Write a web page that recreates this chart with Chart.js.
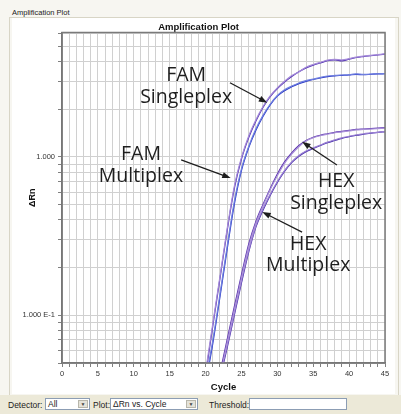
<!DOCTYPE html>
<html>
<head>
<meta charset="utf-8">
<script src="https://cdn.jsdelivr.net/npm/chart.js@4.4.0/dist/chart.umd.min.js"></script>
<style>
  html, body { margin: 0; padding: 0; }
  body {
    width: 401px; height: 414px; position: relative; overflow: hidden;
    background: #f7f6f1; font-family: "Liberation Sans", Arial, sans-serif;
  }
  #group {
    position: absolute; left: 9px; top: 17px; width: 388px; height: 378px;
    border-left: 1px solid #d8d5c6; border-top: 1px solid #d8d5c6; border-right: 1px solid #d8d5c6;
  }
  #groupLabel {
    position: absolute; left: 12px; top: 8px; font-size: 7.5px; color: #222;
    background: #f7f6f1; padding-right: 4px;
  }
  #panel { position: absolute; left: 12px; top: 18px; width: 383px; height: 376px; background: #fff; }
  #bar {
    position: absolute; left: 0; top: 395px; width: 401px; height: 19px;
    background: #ece9d8; font-size: 8.5px; color: #222;
  }
  #bar .lbl { position: absolute; top: 5px; }
  #bar .box {
    position: absolute; top: 3px; height: 12px; background: #fff;
    border: 1px solid #8c9db4; box-sizing: border-box; font-size: 8.5px;
    line-height: 10px; padding-left: 2px;
  }
  #bar .btn {
    position: absolute; top: 1px; right: 1px; width: 10px; height: 8px;
    background: #e4e2d8; border: 1px solid #b8b6aa; box-sizing: border-box;
    font-size: 5px; line-height: 6px; text-align: center; color: #444;
  }
</style>
</head>
<body>
<div id="group"></div>
<div id="groupLabel">Amplification Plot</div>
<div id="panel"><canvas id="ampChart" width="383" height="376"></canvas></div>
<div id="bar">
  <span class="lbl" style="left:8px">Detector:</span>
  <div class="box" style="left:45px; width:45px">All<div class="btn">▼</div></div>
  <span class="lbl" style="left:93px">Plot:</span>
  <div class="box" style="left:110px; width:88px">ΔRn vs. Cycle<div class="btn">▼</div></div>
  <span class="lbl" style="left:209px">Threshold:</span>
  <div class="box" style="left:249px; width:98px"></div>
</div>
<script>
// cycles shared by every trace
const cycles = [20, 21, 22, 23, 24, 25, 26, 27, 28, 29, 30, 31, 32, 33, 34, 35, 36, 37, 38, 39, 40, 41, 42, 43, 44, 45];

// FAM, upper plateau (two replicates)
const famUpperA = [0.042, 0.085, 0.17, 0.34, 0.63, 0.97, 1.32, 1.68, 2.05, 2.4, 2.7, 2.97, 3.22, 3.45, 3.65, 3.8, 3.92, 4.05, 4.1, 4.04, 4.14, 4.24, 4.3, 4.35, 4.4, 4.45];
const famUpperB = [0.044, 0.088, 0.175, 0.35, 0.65, 0.99, 1.35, 1.71, 2.08, 2.43, 2.73, 3.0, 3.26, 3.44, 3.68, 3.83, 3.95, 4.08, 4.13, 4.1, 4.17, 4.27, 4.33, 4.37, 4.42, 4.47];
// FAM, lower plateau
const famLowerA = [0.037, 0.066, 0.13, 0.26, 0.5, 0.82, 1.14, 1.47, 1.8, 2.13, 2.42, 2.62, 2.77, 2.9, 3.0, 3.08, 3.15, 3.21, 3.25, 3.27, 3.29, 3.32, 3.3, 3.32, 3.34, 3.35];
const famLowerB = [0.039, 0.069, 0.135, 0.27, 0.52, 0.84, 1.16, 1.5, 1.83, 2.15, 2.44, 2.65, 2.8, 2.93, 3.03, 3.1, 3.18, 3.24, 3.27, 3.29, 3.31, 3.34, 3.32, 3.33, 3.35, 3.36];
// HEX, upper plateau
const hexUpperA = [null, null, 0.043, 0.07, 0.113, 0.18, 0.28, 0.39, 0.5, 0.63, 0.78, 0.93, 1.06, 1.18, 1.27, 1.33, 1.37, 1.4, 1.43, 1.45, 1.47, 1.49, 1.5, 1.51, 1.52, 1.53];
const hexUpperB = [null, null, 0.041, 0.067, 0.108, 0.172, 0.27, 0.38, 0.49, 0.62, 0.76, 0.91, 1.04, 1.16, 1.26, 1.32, 1.36, 1.39, 1.42, 1.44, 1.46, 1.48, 1.49, 1.5, 1.51, 1.52];
// HEX, lower plateau
const hexLowerA = [null, null, 0.04, 0.062, 0.1, 0.16, 0.25, 0.36, 0.46, 0.57, 0.69, 0.81, 0.92, 1.01, 1.08, 1.13, 1.18, 1.23, 1.27, 1.31, 1.34, 1.37, 1.39, 1.41, 1.43, 1.44];
const hexLowerB = [null, null, 0.042, 0.064, 0.103, 0.165, 0.255, 0.365, 0.47, 0.58, 0.7, 0.82, 0.93, 1.02, 1.09, 1.14, 1.19, 1.24, 1.28, 1.32, 1.35, 1.38, 1.4, 1.42, 1.43, 1.45];

// axis ticks
const xTickLabels = [0, 5, 10, 15, 20, 25, 30, 35, 40, 45];
const yGridValues = [0.05, 0.06, 0.07, 0.08, 0.09, 0.1, 0.2, 0.3, 0.4, 0.5, 0.6, 0.7, 0.8, 0.9, 1, 2, 3, 4, 5, 6];
const yLabelValues = [0.1, 1];
const yLabelTexts = ['1.000 E-1', '1.000'];

// callouts, positions in (cycle, ΔRn)
const callouts = [
  { lines: ['FAM', 'Singleplex'], text: [17.3, 3.26], from: [23.4, 2.94], to: [28.6, 2.2] },
  { lines: ['FAM', 'Multiplex'], text: [11.0, 1.03], from: [16.6, 0.957], to: [23.5, 0.736] },
  { lines: ['HEX', 'Singleplex'], text: [38.2, 0.695], from: [38.3, 0.89], to: [33.45, 1.245] },
  { lines: ['HEX', 'Multiplex'], text: [34.3, 0.281], from: [33.45, 0.335], to: [27.9, 0.449] }
];

function trace(values, color) {
  return {
    data: cycles.map((c, i) => ({ x: c, y: values[i] })),
    borderColor: color,
    borderWidth: 1.2,
    pointRadius: 0,
    fill: false,
    cubicInterpolationMode: 'monotone'
  };
}

const calloutPlugin = {
  id: 'callouts',
  afterDatasetsDraw(chart) {
    const { ctx, chartArea, scales: { x, y } } = chart;
    ctx.save();
    // frame around the plot
    ctx.strokeStyle = '#7a7a7a';
    ctx.lineWidth = 1.5;
    ctx.strokeRect(chartArea.left, chartArea.top, chartArea.right - chartArea.left, chartArea.bottom - chartArea.top);

    ctx.fillStyle = '#1e1e1e';
    ctx.strokeStyle = '#1e1e1e';
    ctx.font = '19.5px "Open Sans"';
    ctx.textAlign = 'center';
    ctx.textBaseline = 'middle';
    callouts.forEach(c => {
      const tx = x.getPixelForValue(c.text[0]);
      const ty = y.getPixelForValue(c.text[1]);
      c.lines.forEach((line, i) => ctx.fillText(line, tx, ty + i * 21.5));

      const x1 = x.getPixelForValue(c.from[0]), y1 = y.getPixelForValue(c.from[1]);
      const x2 = x.getPixelForValue(c.to[0]), y2 = y.getPixelForValue(c.to[1]);
      const ang = Math.atan2(y2 - y1, x2 - x1);
      const head = 9;
      ctx.lineWidth = 1.3;
      ctx.beginPath();
      ctx.moveTo(x1, y1);
      ctx.lineTo(x2 - Math.cos(ang) * head * 0.8, y2 - Math.sin(ang) * head * 0.8);
      ctx.stroke();
      ctx.beginPath();
      ctx.moveTo(x2, y2);
      ctx.lineTo(x2 - head * Math.cos(ang - 0.35), y2 - head * Math.sin(ang - 0.35));
      ctx.lineTo(x2 - head * Math.cos(ang + 0.35), y2 - head * Math.sin(ang + 0.35));
      ctx.closePath();
      ctx.fill();
    });
    ctx.restore();
  }
};

new Chart(document.getElementById('ampChart'), {
  type: 'line',
  data: {
    datasets: [
      trace(famUpperB, '#a58bd9'),
      trace(famUpperA, '#4f2fb0'),
      trace(famLowerB, '#6f7fe0'),
      trace(famLowerA, '#2a38c4'),
      trace(hexUpperB, '#a88fd8'),
      trace(hexUpperA, '#5a32ad'),
      trace(hexLowerB, '#9a80d4'),
      trace(hexLowerA, '#452ca8')
    ]
  },
  options: {
    responsive: false,
    animation: false,
    devicePixelRatio: 1,
    layout: { padding: { left: 0, right: 10, top: 0, bottom: 0 } },
    plugins: {
      legend: { display: false },
      tooltip: { enabled: false },
      title: {
        display: true,
        text: 'Amplification Plot',
        color: '#111',
        font: { family: '"Liberation Sans", Arial', size: 9.5, weight: 'bold', lineHeight: 1 },
        padding: { top: 5, bottom: 0 }
      }
    },
    scales: {
      x: {
        type: 'linear',
        min: 0,
        max: 45,
        afterFit: s => { s.height = 31; },
        ticks: {
          stepSize: 1,
          autoSkip: false,
          maxRotation: 0,
          padding: 2,
          color: '#333',
          font: { family: '"Liberation Sans", Arial', size: 7.5 },
          callback: v => xTickLabels.includes(v) ? String(v) : ''
        },
        grid: { color: '#d0d0d0', tickColor: '#808080', tickLength: 4, lineWidth: 1 },
        border: { color: '#707070', width: 1.5 },
        title: {
          display: true,
          text: 'Cycle',
          color: '#111',
          font: { family: '"Liberation Sans", Arial', size: 9.5, weight: 'bold' },
          padding: { top: 0, bottom: 1 }
        }
      },
      y: {
        type: 'logarithmic',
        min: 0.05,
        max: 6.1,
        afterFit: s => { s.width = 50; },
        afterBuildTicks: s => { s.ticks = yGridValues.map(v => ({ value: v })); },
        ticks: {
          padding: 3,
          color: '#333',
          font: { family: '"Liberation Sans", Arial', size: 7.5 },
          callback: v => {
            const k = yLabelValues.indexOf(v);
            return k >= 0 ? yLabelTexts[k] : '';
          }
        },
        grid: { color: '#d0d0d0', tickColor: '#808080', tickLength: 4, lineWidth: 1 },
        border: { color: '#707070', width: 1.5 },
        title: {
          display: true,
          text: 'ΔRn',
          color: '#111',
          font: { family: '"Liberation Sans", Arial', size: 9, weight: 'bold' },
          padding: { top: 15, bottom: 0 }
        }
      }
    }
  },
  plugins: [calloutPlugin]
});
</script>
</body>
</html>
